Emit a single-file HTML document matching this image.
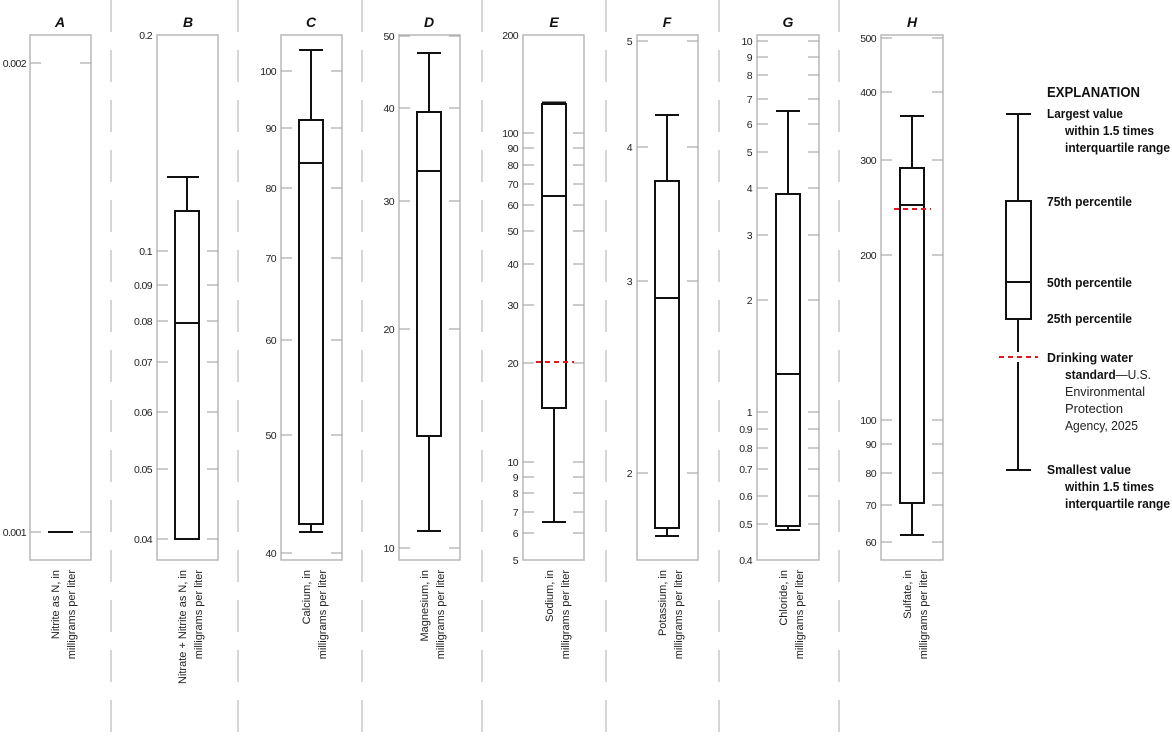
<!DOCTYPE html>
<html><head><meta charset="utf-8"><style>
html,body{margin:0;padding:0;background:#fff}
svg{display:block}
text{font-family:"Liberation Sans Narrow","Liberation Sans",sans-serif;font-size:11px;fill:#222}
.n text, text.n{font-size:10.5px;letter-spacing:-0.6px}
.t{font-family:"Liberation Sans","DejaVu Sans",sans-serif;font-weight:bold;font-style:italic;font-size:14px;fill:#111}
.fr{fill:none;stroke:#b8b8b8;stroke-width:1.5}
.tk{stroke:#aaa;stroke-width:1.2}
.bx{fill:#fff;stroke:#111;stroke-width:2}
.ln{stroke:#111;stroke-width:2}
.sep{stroke:#c8c8c8;stroke-width:1.5;stroke-dasharray:32 18}
.red{stroke:#e8141e;stroke-width:2;stroke-dasharray:5 4}
.lg{font-family:"Liberation Sans Narrow","Liberation Sans",sans-serif;font-weight:bold;font-size:13px;fill:#111}
.lgn{font-family:"Liberation Sans Narrow","Liberation Sans",sans-serif;font-size:13px;fill:#222}
</style></head><body>
<svg width="1172" height="746" viewBox="0 0 1172 746" xmlns="http://www.w3.org/2000/svg">
<g>
<line class="sep" x1="111" y1="0" x2="111" y2="746"/>
<line class="sep" x1="238" y1="0" x2="238" y2="746"/>
<line class="sep" x1="362" y1="0" x2="362" y2="746"/>
<line class="sep" x1="482" y1="0" x2="482" y2="746"/>
<line class="sep" x1="606" y1="0" x2="606" y2="746"/>
<line class="sep" x1="719" y1="0" x2="719" y2="746"/>
<line class="sep" x1="839" y1="0" x2="839" y2="746"/>
</g>

<g class="n">
<!-- A -->
<rect class="fr" x="30" y="35" width="61" height="525"/>
<g class="tk"><line x1="30" y1="63" x2="41" y2="63"/><line x1="80" y1="63" x2="91" y2="63"/><line x1="30" y1="532" x2="41" y2="532"/><line x1="80" y1="532" x2="91" y2="532"/></g>
<text x="26" y="67" text-anchor="end">0.002</text><text x="26" y="536" text-anchor="end">0.001</text>
<line class="ln" x1="48" y1="532" x2="73" y2="532"/>

<!-- B -->
<rect class="fr" x="157" y="35" width="61" height="525"/>
<g class="tk">
<line x1="157" y1="251" x2="168" y2="251"/><line x1="207" y1="251" x2="218" y2="251"/>
<line x1="157" y1="285" x2="168" y2="285"/><line x1="207" y1="285" x2="218" y2="285"/>
<line x1="157" y1="321" x2="168" y2="321"/><line x1="207" y1="321" x2="218" y2="321"/>
<line x1="157" y1="362" x2="168" y2="362"/><line x1="207" y1="362" x2="218" y2="362"/>
<line x1="157" y1="412" x2="168" y2="412"/><line x1="207" y1="412" x2="218" y2="412"/>
<line x1="157" y1="469" x2="168" y2="469"/><line x1="207" y1="469" x2="218" y2="469"/>
<line x1="157" y1="539" x2="168" y2="539"/><line x1="207" y1="539" x2="218" y2="539"/>
</g>
<text x="152" y="39" text-anchor="end">0.2</text>
<text x="152" y="255" text-anchor="end">0.1</text>
<text x="152" y="289" text-anchor="end">0.09</text>
<text x="152" y="325" text-anchor="end">0.08</text>
<text x="152" y="366" text-anchor="end">0.07</text>
<text x="152" y="416" text-anchor="end">0.06</text>
<text x="152" y="473" text-anchor="end">0.05</text>
<text x="152" y="543" text-anchor="end">0.04</text>
<line class="ln" x1="187" y1="177" x2="187" y2="211"/><line class="ln" x1="167" y1="177" x2="199" y2="177"/>
<rect class="bx" x="175" y="211" width="24" height="328"/><line class="ln" x1="175" y1="323" x2="199" y2="323"/>

<!-- C -->
<rect class="fr" x="281" y="35" width="61" height="525"/>
<g class="tk">
<line x1="281" y1="71" x2="292" y2="71"/><line x1="331" y1="71" x2="342" y2="71"/>
<line x1="281" y1="128" x2="292" y2="128"/><line x1="331" y1="128" x2="342" y2="128"/>
<line x1="281" y1="188" x2="292" y2="188"/><line x1="331" y1="188" x2="342" y2="188"/>
<line x1="281" y1="258" x2="292" y2="258"/><line x1="331" y1="258" x2="342" y2="258"/>
<line x1="281" y1="340" x2="292" y2="340"/><line x1="331" y1="340" x2="342" y2="340"/>
<line x1="281" y1="435" x2="292" y2="435"/><line x1="331" y1="435" x2="342" y2="435"/>
<line x1="281" y1="553" x2="292" y2="553"/><line x1="331" y1="553" x2="342" y2="553"/>
</g>
<text x="276" y="75" text-anchor="end">100</text>
<text x="276" y="132" text-anchor="end">90</text>
<text x="276" y="192" text-anchor="end">80</text>
<text x="276" y="262" text-anchor="end">70</text>
<text x="276" y="344" text-anchor="end">60</text>
<text x="276" y="439" text-anchor="end">50</text>
<text x="276" y="557" text-anchor="end">40</text>
<line class="ln" x1="311" y1="50" x2="311" y2="120"/><line class="ln" x1="299" y1="50" x2="323" y2="50"/>
<rect class="bx" x="299" y="120" width="24" height="404"/><line class="ln" x1="299" y1="163" x2="323" y2="163"/>
<line class="ln" x1="311" y1="524" x2="311" y2="532"/><line class="ln" x1="299" y1="532" x2="323" y2="532"/>

<!-- D -->
<rect class="fr" x="399" y="35" width="61" height="525"/>
<g class="tk">
<line x1="399" y1="36" x2="410" y2="36"/><line x1="449" y1="36" x2="460" y2="36"/>
<line x1="399" y1="108" x2="410" y2="108"/><line x1="449" y1="108" x2="460" y2="108"/>
<line x1="399" y1="201" x2="410" y2="201"/><line x1="449" y1="201" x2="460" y2="201"/>
<line x1="399" y1="329" x2="410" y2="329"/><line x1="449" y1="329" x2="460" y2="329"/>
<line x1="399" y1="548" x2="410" y2="548"/><line x1="449" y1="548" x2="460" y2="548"/>
</g>
<text x="394" y="40" text-anchor="end">50</text>
<text x="394" y="112" text-anchor="end">40</text>
<text x="394" y="205" text-anchor="end">30</text>
<text x="394" y="333" text-anchor="end">20</text>
<text x="394" y="552" text-anchor="end">10</text>
<line class="ln" x1="429" y1="53" x2="429" y2="112"/><line class="ln" x1="417" y1="53" x2="441" y2="53"/>
<rect class="bx" x="417" y="112" width="24" height="324"/><line class="ln" x1="417" y1="171" x2="441" y2="171"/>
<line class="ln" x1="429" y1="436" x2="429" y2="531"/><line class="ln" x1="417" y1="531" x2="441" y2="531"/>

<!-- E -->
<rect class="fr" x="523" y="35" width="61" height="525"/>
<g class="tk">
<line x1="523" y1="133" x2="534" y2="133"/><line x1="573" y1="133" x2="584" y2="133"/>
<line x1="523" y1="148" x2="534" y2="148"/><line x1="573" y1="148" x2="584" y2="148"/>
<line x1="523" y1="165" x2="534" y2="165"/><line x1="573" y1="165" x2="584" y2="165"/>
<line x1="523" y1="184" x2="534" y2="184"/><line x1="573" y1="184" x2="584" y2="184"/>
<line x1="523" y1="205" x2="534" y2="205"/><line x1="573" y1="205" x2="584" y2="205"/>
<line x1="523" y1="231" x2="534" y2="231"/><line x1="573" y1="231" x2="584" y2="231"/>
<line x1="523" y1="264" x2="534" y2="264"/><line x1="573" y1="264" x2="584" y2="264"/>
<line x1="523" y1="305" x2="534" y2="305"/><line x1="573" y1="305" x2="584" y2="305"/>
<line x1="523" y1="363" x2="534" y2="363"/><line x1="573" y1="363" x2="584" y2="363"/>
<line x1="523" y1="462" x2="534" y2="462"/><line x1="573" y1="462" x2="584" y2="462"/>
<line x1="523" y1="477" x2="534" y2="477"/><line x1="573" y1="477" x2="584" y2="477"/>
<line x1="523" y1="493" x2="534" y2="493"/><line x1="573" y1="493" x2="584" y2="493"/>
<line x1="523" y1="512" x2="534" y2="512"/><line x1="573" y1="512" x2="584" y2="512"/>
<line x1="523" y1="533" x2="534" y2="533"/><line x1="573" y1="533" x2="584" y2="533"/>
</g>
<text x="518" y="39" text-anchor="end">200</text>
<text x="518" y="137" text-anchor="end">100</text>
<text x="518" y="152" text-anchor="end">90</text>
<text x="518" y="169" text-anchor="end">80</text>
<text x="518" y="188" text-anchor="end">70</text>
<text x="518" y="209" text-anchor="end">60</text>
<text x="518" y="235" text-anchor="end">50</text>
<text x="518" y="268" text-anchor="end">40</text>
<text x="518" y="309" text-anchor="end">30</text>
<text x="518" y="367" text-anchor="end">20</text>
<text x="518" y="466" text-anchor="end">10</text>
<text x="518" y="481" text-anchor="end">9</text>
<text x="518" y="497" text-anchor="end">8</text>
<text x="518" y="516" text-anchor="end">7</text>
<text x="518" y="537" text-anchor="end">6</text>
<text x="518" y="564" text-anchor="end">5</text>
<rect class="bx" x="542" y="104" width="24" height="304"/>
<line stroke="#111" stroke-width="3" x1="542" y1="103" x2="566" y2="103"/>
<line class="ln" x1="542" y1="196" x2="566" y2="196"/>
<line class="ln" x1="554" y1="408" x2="554" y2="522"/><line class="ln" x1="542" y1="522" x2="566" y2="522"/>
<line class="red" x1="536" y1="362" x2="574" y2="362"/>

<!-- F -->
<rect class="fr" x="637" y="35" width="61" height="525"/>
<g class="tk">
<line x1="637" y1="41" x2="648" y2="41"/><line x1="687" y1="41" x2="698" y2="41"/>
<line x1="637" y1="147" x2="648" y2="147"/><line x1="687" y1="147" x2="698" y2="147"/>
<line x1="637" y1="281" x2="648" y2="281"/><line x1="687" y1="281" x2="698" y2="281"/>
<line x1="637" y1="473" x2="648" y2="473"/><line x1="687" y1="473" x2="698" y2="473"/>
</g>
<text x="632" y="45" text-anchor="end">5</text>
<text x="632" y="151" text-anchor="end">4</text>
<text x="632" y="285" text-anchor="end">3</text>
<text x="632" y="477" text-anchor="end">2</text>
<line class="ln" x1="667" y1="115" x2="667" y2="181"/><line class="ln" x1="655" y1="115" x2="679" y2="115"/>
<rect class="bx" x="655" y="181" width="24" height="347"/><line class="ln" x1="655" y1="298" x2="679" y2="298"/>
<line class="ln" x1="667" y1="528" x2="667" y2="536"/><line class="ln" x1="655" y1="536" x2="679" y2="536"/>

<!-- G -->
<rect class="fr" x="757" y="35" width="62" height="525"/>
<g class="tk">
<line x1="757" y1="41" x2="768" y2="41"/><line x1="808" y1="41" x2="819" y2="41"/>
<line x1="757" y1="57" x2="768" y2="57"/><line x1="808" y1="57" x2="819" y2="57"/>
<line x1="757" y1="75" x2="768" y2="75"/><line x1="808" y1="75" x2="819" y2="75"/>
<line x1="757" y1="99" x2="768" y2="99"/><line x1="808" y1="99" x2="819" y2="99"/>
<line x1="757" y1="124" x2="768" y2="124"/><line x1="808" y1="124" x2="819" y2="124"/>
<line x1="757" y1="152" x2="768" y2="152"/><line x1="808" y1="152" x2="819" y2="152"/>
<line x1="757" y1="188" x2="768" y2="188"/><line x1="808" y1="188" x2="819" y2="188"/>
<line x1="757" y1="235" x2="768" y2="235"/><line x1="808" y1="235" x2="819" y2="235"/>
<line x1="757" y1="300" x2="768" y2="300"/><line x1="808" y1="300" x2="819" y2="300"/>
<line x1="757" y1="412" x2="768" y2="412"/><line x1="808" y1="412" x2="819" y2="412"/>
<line x1="757" y1="429" x2="768" y2="429"/><line x1="808" y1="429" x2="819" y2="429"/>
<line x1="757" y1="448" x2="768" y2="448"/><line x1="808" y1="448" x2="819" y2="448"/>
<line x1="757" y1="469" x2="768" y2="469"/><line x1="808" y1="469" x2="819" y2="469"/>
<line x1="757" y1="496" x2="768" y2="496"/><line x1="808" y1="496" x2="819" y2="496"/>
<line x1="757" y1="524" x2="768" y2="524"/><line x1="808" y1="524" x2="819" y2="524"/>
</g>
<text x="752" y="45" text-anchor="end">10</text>
<text x="752" y="61" text-anchor="end">9</text>
<text x="752" y="79" text-anchor="end">8</text>
<text x="752" y="103" text-anchor="end">7</text>
<text x="752" y="128" text-anchor="end">6</text>
<text x="752" y="156" text-anchor="end">5</text>
<text x="752" y="192" text-anchor="end">4</text>
<text x="752" y="239" text-anchor="end">3</text>
<text x="752" y="304" text-anchor="end">2</text>
<text x="752" y="416" text-anchor="end">1</text>
<text x="752" y="433" text-anchor="end">0.9</text>
<text x="752" y="452" text-anchor="end">0.8</text>
<text x="752" y="473" text-anchor="end">0.7</text>
<text x="752" y="500" text-anchor="end">0.6</text>
<text x="752" y="528" text-anchor="end">0.5</text>
<text x="752" y="564" text-anchor="end">0.4</text>
<line class="ln" x1="788" y1="111" x2="788" y2="194"/><line class="ln" x1="776" y1="111" x2="800" y2="111"/>
<rect class="bx" x="776" y="194" width="24" height="332"/><line class="ln" x1="776" y1="374" x2="800" y2="374"/>
<line class="ln" x1="788" y1="526" x2="788" y2="530"/><line class="ln" x1="776" y1="530" x2="800" y2="530"/>

<!-- H -->
<rect class="fr" x="881" y="35" width="62" height="525"/>
<g class="tk">
<line x1="881" y1="38" x2="892" y2="38"/><line x1="932" y1="38" x2="943" y2="38"/>
<line x1="881" y1="92" x2="892" y2="92"/><line x1="932" y1="92" x2="943" y2="92"/>
<line x1="881" y1="160" x2="892" y2="160"/><line x1="932" y1="160" x2="943" y2="160"/>
<line x1="881" y1="255" x2="892" y2="255"/><line x1="932" y1="255" x2="943" y2="255"/>
<line x1="881" y1="420" x2="892" y2="420"/><line x1="932" y1="420" x2="943" y2="420"/>
<line x1="881" y1="444" x2="892" y2="444"/><line x1="932" y1="444" x2="943" y2="444"/>
<line x1="881" y1="473" x2="892" y2="473"/><line x1="932" y1="473" x2="943" y2="473"/>
<line x1="881" y1="505" x2="892" y2="505"/><line x1="932" y1="505" x2="943" y2="505"/>
<line x1="881" y1="542" x2="892" y2="542"/><line x1="932" y1="542" x2="943" y2="542"/>
</g>
<text x="876" y="42" text-anchor="end">500</text>
<text x="876" y="96" text-anchor="end">400</text>
<text x="876" y="164" text-anchor="end">300</text>
<text x="876" y="259" text-anchor="end">200</text>
<text x="876" y="424" text-anchor="end">100</text>
<text x="876" y="448" text-anchor="end">90</text>
<text x="876" y="477" text-anchor="end">80</text>
<text x="876" y="509" text-anchor="end">70</text>
<text x="876" y="546" text-anchor="end">60</text>
<line class="ln" x1="912" y1="116" x2="912" y2="168"/><line class="ln" x1="900" y1="116" x2="924" y2="116"/>
<rect class="bx" x="900" y="168" width="24" height="335"/><line class="ln" x1="900" y1="205" x2="924" y2="205"/>
<line class="ln" x1="912" y1="503" x2="912" y2="535"/><line class="ln" x1="900" y1="535" x2="924" y2="535"/>
<line class="red" x1="894" y1="209" x2="931" y2="209"/>
</g>

<text class="t" x="60" y="27" text-anchor="middle">A</text>
<text class="t" x="188" y="27" text-anchor="middle">B</text>
<text class="t" x="311" y="27" text-anchor="middle">C</text>
<text class="t" x="429" y="27" text-anchor="middle">D</text>
<text class="t" x="554" y="27" text-anchor="middle">E</text>
<text class="t" x="667" y="27" text-anchor="middle">F</text>
<text class="t" x="788" y="27" text-anchor="middle">G</text>
<text class="t" x="912" y="27" text-anchor="middle">H</text>

<g transform="translate(59,570) rotate(-90)"><text text-anchor="end">Nitrite as N, in</text></g>
<g transform="translate(75,570) rotate(-90)"><text text-anchor="end">milligrams per liter</text></g>
<g transform="translate(186,570) rotate(-90)"><text text-anchor="end">Nitrate + Nitrite as N, in</text></g>
<g transform="translate(202,570) rotate(-90)"><text text-anchor="end">milligrams per liter</text></g>
<g transform="translate(310,570) rotate(-90)"><text text-anchor="end">Calcium, in</text></g>
<g transform="translate(326,570) rotate(-90)"><text text-anchor="end">milligrams per liter</text></g>
<g transform="translate(428,570) rotate(-90)"><text text-anchor="end">Magnesium, in</text></g>
<g transform="translate(444,570) rotate(-90)"><text text-anchor="end">milligrams per liter</text></g>
<g transform="translate(553,570) rotate(-90)"><text text-anchor="end">Sodium, in</text></g>
<g transform="translate(569,570) rotate(-90)"><text text-anchor="end">milligrams per liter</text></g>
<g transform="translate(666,570) rotate(-90)"><text text-anchor="end">Potassium, in</text></g>
<g transform="translate(682,570) rotate(-90)"><text text-anchor="end">milligrams per liter</text></g>
<g transform="translate(787,570) rotate(-90)"><text text-anchor="end">Chloride, in</text></g>
<g transform="translate(803,570) rotate(-90)"><text text-anchor="end">milligrams per liter</text></g>
<g transform="translate(911,570) rotate(-90)"><text text-anchor="end">Sulfate, in</text></g>
<g transform="translate(927,570) rotate(-90)"><text text-anchor="end">milligrams per liter</text></g>

<!-- Legend -->
<text class="lg" x="1047" y="97" style="font-size:15px" textLength="93" lengthAdjust="spacingAndGlyphs">EXPLANATION</text>
<line class="ln" x1="1018" y1="114" x2="1018" y2="470"/>
<line class="ln" x1="1006" y1="114" x2="1031" y2="114"/>
<line class="ln" x1="1006" y1="470" x2="1031" y2="470"/>
<rect class="bx" x="1006" y="201" width="25" height="118"/>
<line class="ln" x1="1006" y1="282" x2="1031" y2="282"/>
<rect x="1012" y="352" width="12" height="10" fill="#fff"/>
<line class="red" x1="999" y1="357" x2="1038" y2="357"/>
<text class="lg" x="1047" y="118" textLength="76" lengthAdjust="spacingAndGlyphs">Largest value</text>
<text class="lg" x="1065" y="135" textLength="89" lengthAdjust="spacingAndGlyphs">within 1.5 times</text>
<text class="lg" x="1065" y="152" textLength="105" lengthAdjust="spacingAndGlyphs">interquartile range</text>
<text class="lg" x="1047" y="206" textLength="85" lengthAdjust="spacingAndGlyphs">75th percentile</text>
<text class="lg" x="1047" y="287" textLength="85" lengthAdjust="spacingAndGlyphs">50th percentile</text>
<text class="lg" x="1047" y="323" textLength="85" lengthAdjust="spacingAndGlyphs">25th percentile</text>
<text class="lg" x="1047" y="362" textLength="86" lengthAdjust="spacingAndGlyphs">Drinking water</text>
<text class="lg" x="1065" y="379" textLength="86" lengthAdjust="spacingAndGlyphs">standard<tspan class="lgn" style="font-weight:normal">—U.S.</tspan></text>
<text class="lgn" x="1065" y="396" textLength="80" lengthAdjust="spacingAndGlyphs">Environmental</text>
<text class="lgn" x="1065" y="413" textLength="58" lengthAdjust="spacingAndGlyphs">Protection</text>
<text class="lgn" x="1065" y="430" textLength="73" lengthAdjust="spacingAndGlyphs">Agency, 2025</text>
<text class="lg" x="1047" y="474" textLength="84" lengthAdjust="spacingAndGlyphs">Smallest value</text>
<text class="lg" x="1065" y="491" textLength="89" lengthAdjust="spacingAndGlyphs">within 1.5 times</text>
<text class="lg" x="1065" y="508" textLength="105" lengthAdjust="spacingAndGlyphs">interquartile range</text>
</svg>
</body></html>
